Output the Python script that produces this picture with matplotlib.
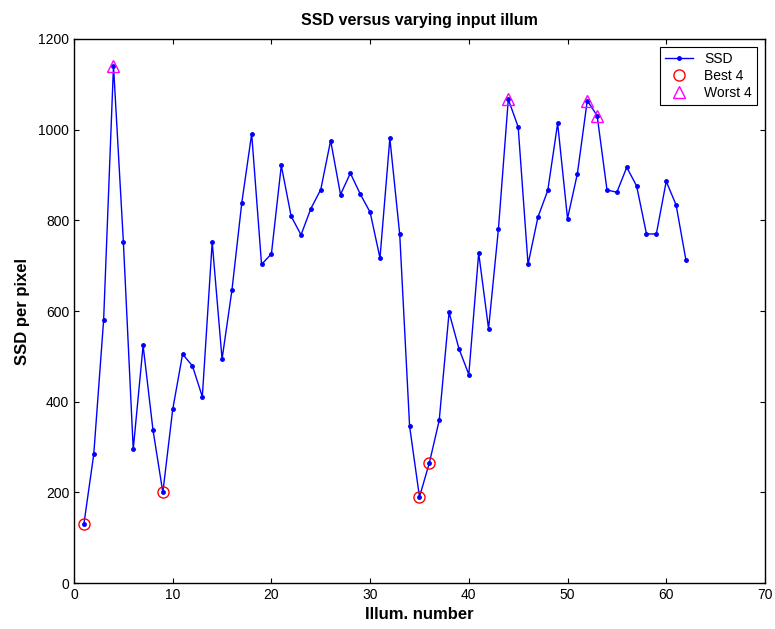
import matplotlib
matplotlib.use("Agg")
import matplotlib.pyplot as plt
import numpy as np

plt.rcParams["font.family"] = ["Liberation Sans", "DejaVu Sans"]

# SSD per illumination (1..62)
illum = np.arange(1, 63)
ssd = [130, 284, 580, 1141, 753, 295, 524, 338, 200, 383,
       505, 479, 411, 752, 494, 646, 839, 991, 703, 726,
       921, 809, 768, 826, 868, 976, 857, 904, 858, 818,
       717, 981, 769, 346, 190, 265, 359, 597, 517, 460,
       728, 561, 781, 1067, 1006, 703, 807, 866, 1014, 804,
       903, 1064, 1031, 867, 862, 917, 876, 770, 770, 886,
       834, 712]
best_idx = [1, 35, 9, 36]
worst_idx = [4, 44, 52, 53]

ssd = np.array(ssd)
best_vals = ssd[np.array(best_idx) - 1]
worst_vals = ssd[np.array(worst_idx) - 1]

fig = plt.figure(figsize=(7.75, 6.29), dpi=100)
ax = fig.add_axes([0.0955, 0.073, 0.8915, 0.865])

ax.plot(illum, ssd, color="blue", marker=".", markersize=5, linewidth=1, label="SSD")
ax.plot(best_idx, best_vals, linestyle="none", marker="o", markersize=8,
        markerfacecolor="none", markeredgecolor="red", label="Best 4")
ax.plot(worst_idx, worst_vals, linestyle="none", marker="^", markersize=8,
        markerfacecolor="none", markeredgecolor="magenta", label="Worst 4")

ax.set_xlim(0, 70)
ax.set_ylim(0, 1200)
ax.set_xticks(range(0, 71, 10))
ax.set_yticks(range(0, 1201, 200))
ax.tick_params(direction="in", top=True, right=True, labelsize=10)
for s in ax.spines.values():
    s.set_linewidth(1.0)
ax.set_title("SSD versus varying input illum", fontsize=11.5, fontweight="bold", pad=10)
ax.set_xlabel("Illum. number", fontsize=12, fontweight="bold", labelpad=4)
ax.set_ylabel("SSD per pixel", fontsize=12, fontweight="bold", labelpad=6)

leg = ax.legend(loc="upper right", fontsize=10, fancybox=False, framealpha=1,
                edgecolor="black", borderaxespad=0.6, handlelength=2.0,
                labelspacing=0.2, borderpad=0.35, handletextpad=0.8)
leg.get_frame().set_linewidth(0.8)

fig.savefig("out.png", dpi=100)
